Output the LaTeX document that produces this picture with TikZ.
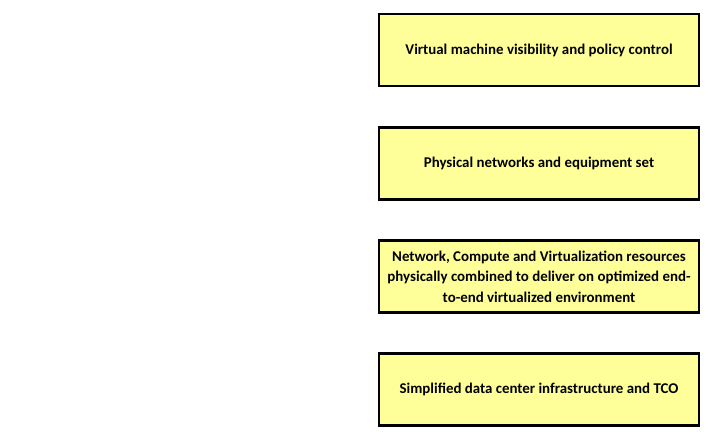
\documentclass[tikz,border=0pt]{standalone}
\usepackage{fontspec}
\setmainfont{Carlito}
\usetikzlibrary{positioning}

\definecolor{boxyellow}{RGB}{255,255,153}

\tikzset{
    layerbox/.style={draw=black, line width=2.4pt, fill=boxyellow, minimum width=320pt,
        minimum height=72pt, align=center, font=\fontsize{14.9}{20.5}\selectfont\bfseries,
        inner sep=2pt}
}

\begin{document}
\begin{tikzpicture}[x=1pt, y=-1pt]
        % Page
        \useasboundingbox (0,0) rectangle (712,436);
        % Boxes
        \node[layerbox] (vmctrl) at (539,50) {Virtual machine visibility and policy control};
        \node[layerbox] (phys) at (539,163.5) {Physical networks and equipment set};
        \node[layerbox] (combined) at (539,276.5) {Network, Compute and Virtualization resources\\
            physically combined to deliver on optimized end-\\to-end virtualized environment};
        \node[layerbox] (simple) at (539,389.5) {Simplified data center infrastructure and TCO};
    \end{tikzpicture}
\end{document}
